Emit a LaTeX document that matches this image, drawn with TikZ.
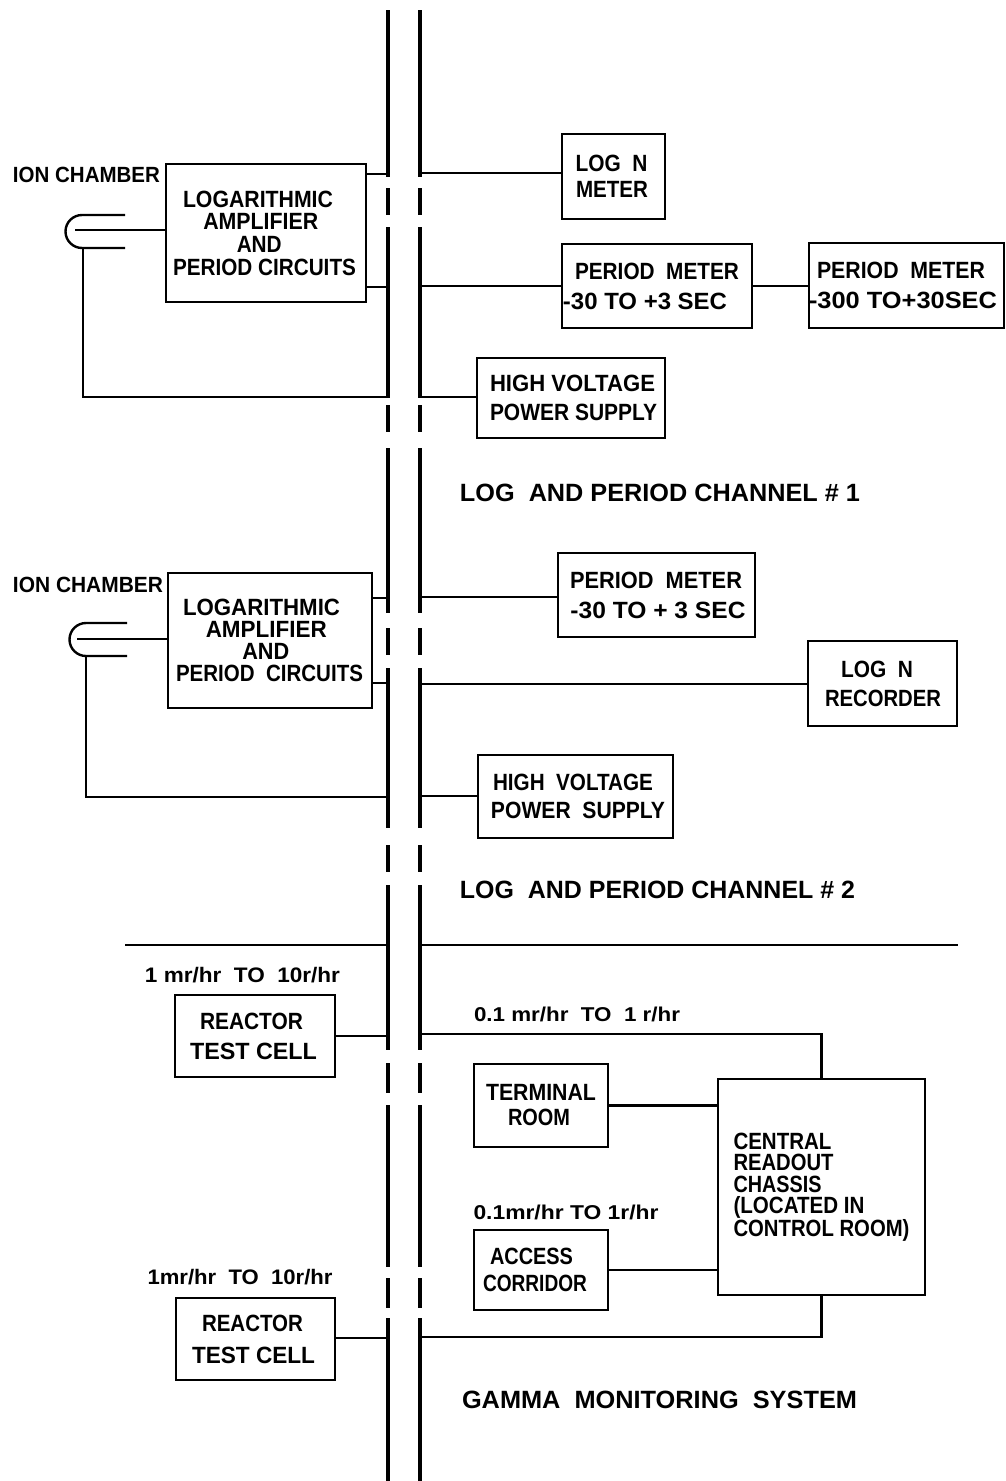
\documentclass[tikz,border=0pt]{standalone}
\usepackage{fontspec}
\setmainfont{Liberation Sans}
\usepackage{graphicx}
\newcommand\ftxt[3]{\hspace*{#1pt}\resizebox{#2pt}{\height}{#3}\hspace*{-#1pt}}
\tikzset{
  box/.style={draw, line width=2.4pt, inner sep=0pt, outer sep=0pt, align=center},
  wire/.style={line width=2.4pt},
  wall/.style={line width=3.4pt},
  lbl/.style={inner sep=0pt, outer sep=0pt, font=\bfseries\fontsize{22}{22}\selectfont},
  big/.style={inner sep=0pt, outer sep=0pt, font=\bfseries\fontsize{25}{25}\selectfont},
  rate/.style={inner sep=0pt, outer sep=0pt, font=\bfseries\fontsize{#1}{#1}\selectfont},
  f2/.style={font=\bfseries\fontsize{23.5}{#1}\selectfont},
}
\begin{document}
\begin{tikzpicture}[x=1pt,y=-1pt]
\useasboundingbox (0,0) rectangle (1005,1481);
\fill[white] (0,0) rectangle (1005,1481);

% wall
\foreach \a/\b in {10/177,188/215,227/398,405/432,448/613,628/655,668/828,845/872,885/1050,1063/1093,1105/1267,1278/1308,1318/1481}{
  \draw[wall] (388,\a) -- (388,\b);
  \draw[wall] (420,\a) -- (420,\b);
}

% ---------------- Channel 1 ----------------
\node[lbl] (icl1) at (86.5,175) {\ftxt{0}{147}{ION CHAMBER}};
\node[box, f2=22.7, minimum width=200pt, minimum height=138pt] (la1) at (266,233)
  {\ftxt{-8}{150}{LOGARITHMIC}\\\ftxt{-10.5}{115}{AMPLIFIER}\\\ftxt{-13.5}{45}{AND}\\\ftxt{-1.5}{183}{PERIOD CIRCUITS}};
\coordinate (ic1) at (82,231.5);
\draw[wire] (125,215) -- (82,215) arc[start angle=-90, end angle=-270, radius=16.5] -- (125,248);
\coordinate (ic1m) at (75,230);
\draw[wire] (ic1m) -- (ic1m -| la1.west);
\coordinate (ic1b) at (83,248);
\coordinate (wl3) at (388,397);
\draw[wire] (ic1b) |- (wl3);
\coordinate (wl1) at (388,174);
\coordinate (wl2) at (388,287);
\draw[wire] (wl1 -| la1.east) -- (wl1);
\draw[wire] (wl2 -| la1.east) -- (wl2);

\node[box, f2=26, minimum width=103pt, minimum height=85pt] (lg1) at (613.5,176.5)
  {\ftxt{-2}{72}{LOG\ \ N}\\\ftxt{-1.5}{72}{METER}};
\node[box, f2=30, minimum width=190pt, minimum height=84pt] (pm1a) at (657,286)
  {\ftxt{0}{164}{PERIOD\ \ METER}\\\ftxt{-12}{164}{-30\ TO +3 SEC}};
\node[box, f2=30, minimum width=195pt, minimum height=85pt] (pm1b) at (906.5,285.5)
  {\ftxt{-5.5}{168}{PERIOD\ \ METER}\\\ftxt{-3.5}{188}{-300\ TO+30SEC}};
\node[box, f2=29, minimum width=188pt, minimum height=80pt] (hv1) at (571,398)
  {\ftxt{1.5}{165}{HIGH VOLTAGE}\\\ftxt{2.5}{167}{POWER SUPPLY}};
\coordinate (wr1) at (420,173);
\coordinate (wr2) at (420,286);
\coordinate (wr3) at (420,397);
\draw[wire] (wr1) -- (wr1 -| lg1.west);
\draw[wire] (wr2) -- (wr2 -| pm1a.west);
\draw[wire] (pm1a.east) -- (pm1a.east -| pm1b.west);
\draw[wire] (wr3) -- (wr3 -| hv1.west);
\node[big] (ch1) at (660,493) {\ftxt{0}{400}{LOG\ \ AND PERIOD CHANNEL \# 1}};

% ---------------- Channel 2 ----------------
\node[lbl] (icl2) at (88,585) {\ftxt{0}{150}{ION CHAMBER}};
\node[box, f2=22, minimum width=204pt, minimum height=135pt] (la2) at (270,640.5)
  {\ftxt{-8.5}{157}{LOGARITHMIC}\\\ftxt{-7.5}{121}{AMPLIFIER}\\\ftxt{-8.5}{47}{AND}\\\ftxt{-0.5}{187}{PERIOD\ \ CIRCUITS}};
\coordinate (ic2) at (86,639.5);
\draw[wire] (127,623) -- (86,623) arc[start angle=-90, end angle=-270, radius=16.5] -- (127,656);
\coordinate (ic2m) at (77,639);
\draw[wire] (ic2m) -- (ic2m -| la2.west);
\coordinate (ic2b) at (86,656);
\coordinate (wl6) at (388,797);
\draw[wire] (ic2b) |- (wl6);
\coordinate (wl4) at (388,598);
\coordinate (wl5) at (388,683);
\draw[wire] (wl4 -| la2.east) -- (wl4);
\draw[wire] (wl5 -| la2.east) -- (wl5);

\node[box, f2=30, minimum width=197pt, minimum height=84pt] (pm2) at (656.5,595)
  {\ftxt{-0.5}{172}{PERIOD\ \ METER}\\\ftxt{1.5}{175}{-30\ TO + 3 SEC}};
\node[box, f2=29, minimum width=149pt, minimum height=85pt] (lg2) at (882.5,683.5)
  {\ftxt{-5.5}{72}{LOG\ \ N}\\\ftxt{0.5}{116}{RECORDER}};
\node[box, f2=28, minimum width=195pt, minimum height=83pt] (hv2) at (575.5,796.5)
  {\ftxt{-2.5}{160}{HIGH\ \ VOLTAGE}\\\ftxt{2.5}{174}{POWER\ \ SUPPLY}};
\coordinate (wr4) at (420,597);
\coordinate (wr5) at (420,684);
\coordinate (wr6) at (420,796);
\draw[wire] (wr4) -- (wr4 -| pm2.west);
\draw[wire] (wr5) -- (wr5 -| lg2.west);
\draw[wire] (wr6) -- (wr6 -| hv2.west);
\node[big] (ch2) at (657.5,890) {\ftxt{0}{395}{LOG\ \ AND PERIOD CHANNEL \# 2}};

% ---------------- Gamma monitoring ----------------
\coordinate (dl) at (125,945);
\coordinate (dlw) at (388,945);
\coordinate (drw) at (420,945);
\coordinate (dr) at (958,945);
\draw[wire] (dl) -- (dlw);
\draw[wire] (drw) -- (dr);

\node[rate=21] (r1) at (242.5,975) {\ftxt{0}{195}{1 mr/hr\ \ TO\ \ 10r/hr}};
\node[box, f2=30, minimum width=160pt, minimum height=82pt] (rtc1) at (255,1036)
  {\ftxt{-3.5}{103}{REACTOR}\\\ftxt{-1.5}{127}{TEST CELL}};
\coordinate (wl7) at (388,1036);
\draw[wire] (rtc1.east) -- (wl7);

\node[rate=21] (r2) at (240,1277) {\ftxt{0}{185}{1mr/hr\ \ TO\ \ 10r/hr}};
\node[box, f2=32, minimum width=159pt, minimum height=82pt] (rtc2) at (255.5,1339)
  {\ftxt{-3}{101}{REACTOR}\\\ftxt{-2}{123}{TEST CELL}};
\coordinate (wl8) at (388,1338);
\draw[wire] (wl8 -| rtc2.east) -- (wl8);

\node[rate=20] (g1) at (577,1014) {\ftxt{0}{206}{0.1 mr/hr\ \ TO\ \ 1 r/hr}};
\node[box, f2=25, minimum width=134pt, minimum height=83pt] (term) at (541,1105.5)
  {\ftxt{0}{110}{TERMINAL}\\\ftxt{-2}{62}{ROOM}};
\node[box, align=left, f2=21.5, minimum width=207pt, minimum height=216pt] (cen) at (821.5,1187)
  {\ftxt{0}{98}{CENTRAL}\\\ftxt{0}{100}{READOUT}\\\ftxt{0}{88}{CHASSIS}\\\ftxt{0}{131}{(LOCATED IN}\\\ftxt{0}{176}{CONTROL ROOM)}};
\node[rate=20] (g2) at (566,1212) {\ftxt{0}{185}{0.1mr/hr TO 1r/hr}};
\node[box, f2=27, minimum width=134pt, minimum height=80pt] (acc) at (541,1270)
  {\ftxt{-9.5}{83}{ACCESS}\\\ftxt{-6}{104}{CORRIDOR}};
\coordinate (wr9) at (420,1034);
\coordinate (wr10) at (420,1337);
\draw[wire] (wr9) -| (cen.north);
\draw[wire] (cen.south) |- (wr10);
\draw[wire] (term.east) -- (term.east -| cen.west);
\draw[wire] (acc.east) -- (acc.east -| cen.west);
\node[big] (gms) at (659.5,1400) {\ftxt{0}{395}{GAMMA\ \ MONITORING\ \ SYSTEM}};
\end{tikzpicture}
\end{document}
